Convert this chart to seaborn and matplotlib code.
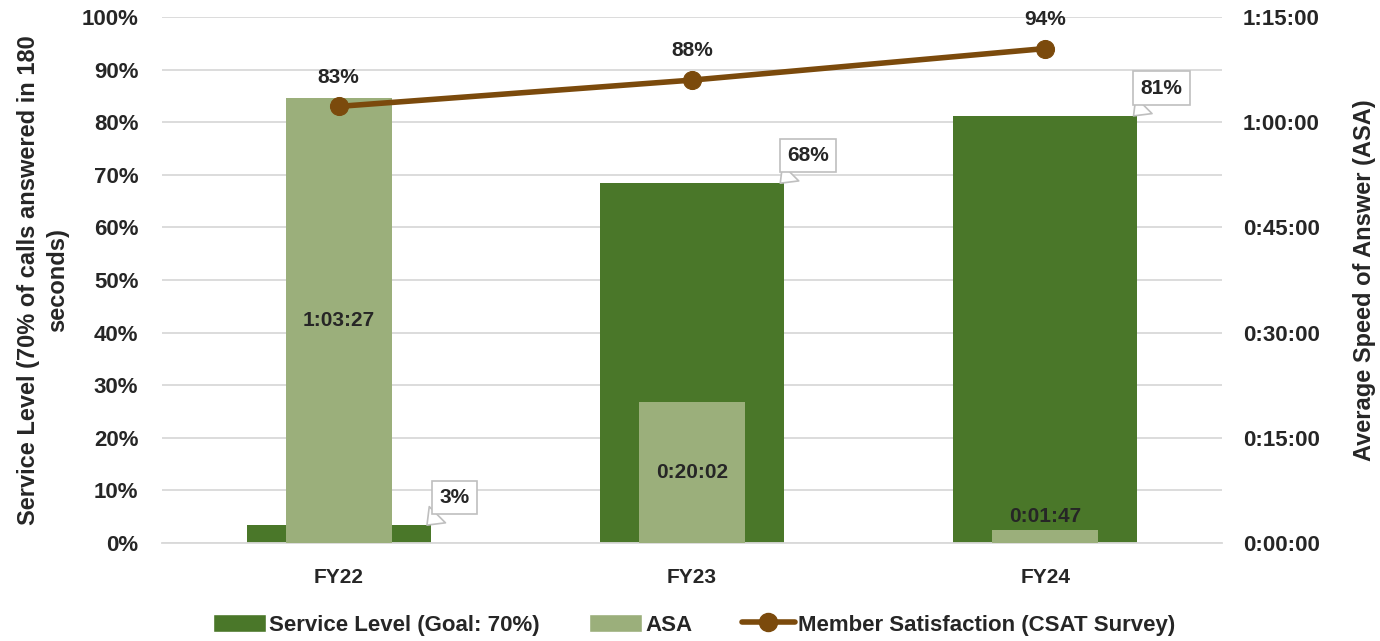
import matplotlib
matplotlib.use("Agg")
import matplotlib.pyplot as plt
import seaborn as sns
from matplotlib.patches import Patch
from matplotlib.lines import Line2D

# =====================================
# Data
# =====================================

years = ["FY22", "FY23", "FY24"]
service_level = [3.4, 68.4, 81.2]          # percent of calls answered in 180 s
asa_minutes = [63.45, 20.033, 1.783]       # average speed of answer, minutes
asa_labels = ["1:03:27", "0:20:02", "0:01:47"]
csat = [83.0, 88.0, 94.0]                  # member satisfaction, percent

right_ticks = [0, 15, 30, 45, 60, 75]
right_tick_labels = ["0:00:00", "0:15:00", "0:30:00", "0:45:00", "1:00:00", "1:15:00"]

dark_green = "#4A7729"
light_green = "#9BAF7B"
brown = "#7B4A0C"
grid_gray = "#D9D9D9"

# =====================================
# Setup
# =====================================

sns.set_style("white")
plt.rcParams["font.family"] = ["Liberation Sans", "DejaVu Sans"]
plt.rcParams["font.weight"] = "bold"

fig = plt.figure(figsize=(13.8, 6.41), dpi=100)
ax = fig.add_axes([0.1174, 0.1529, 0.768, 0.8206])

# =====================================
# Service level bars (left axis)
# =====================================

sns.barplot(x=years, y=service_level, ax=ax, color=dark_green,
            width=0.52, saturation=1, linewidth=0, edgecolor=dark_green)
ax.set_ylim(0, 100)
ax.set_xlim(-0.5, 2.5)
ax.set_yticks(range(0, 101, 10))
ax.set_yticklabels([f"{v}%" for v in range(0, 101, 10)], fontsize=16, fontweight="bold")
ax.yaxis.grid(True, color=grid_gray, linewidth=1.3)
ax.set_axisbelow(True)
ax.tick_params(axis="y", length=0, pad=17)
ax.tick_params(axis="x", length=0, labelsize=15, pad=18)
for lbl in ax.get_xticklabels():
    lbl.set_fontweight("bold")
for s in ["left", "right", "top"]:
    ax.spines[s].set_visible(False)
ax.spines["bottom"].set_color(grid_gray)
ax.spines["bottom"].set_linewidth(1.3)
ax.set_ylabel("Service Level (70% of calls answered in 180\nseconds)",
              fontsize=17, fontweight="bold", labelpad=9, linespacing=1.35)

# callout labels for service level
for i, v in enumerate(service_level):
    ax.annotate(
        f"{v:.0f}%",
        xy=(i + 0.25, v),
        xytext=(20, 20),
        textcoords="offset points",
        ha="center",
        va="center",
        fontsize=15,
        fontweight="bold",
        bbox=dict(boxstyle="square,pad=0.35", fc="white", ec="#BFBFBF", lw=1.2),
        arrowprops=dict(arrowstyle="wedge,tail_width=1.1", fc="white",
                        ec="#BFBFBF", lw=1.2, shrinkA=0, shrinkB=0),
        zorder=10,
    )

# =====================================
# ASA bars (right axis)
# =====================================

ax2 = ax.twinx()
sns.barplot(x=years, y=asa_minutes, ax=ax2, color=light_green,
            width=0.30, saturation=1, linewidth=0, edgecolor=light_green)
ax2.set_ylim(0, 75)
ax2.set_xlim(-0.5, 2.5)
ax2.set_yticks(right_ticks)
ax2.set_yticklabels(right_tick_labels, fontsize=16, fontweight="bold")
ax2.tick_params(axis="y", length=0, pad=15)
for s in ["left", "right", "top", "bottom"]:
    ax2.spines[s].set_visible(False)
ax2.set_ylabel("Average Speed of Answer (ASA)", fontsize=17,
               fontweight="bold", labelpad=24)

for i, (v, lab) in enumerate(zip(asa_minutes, asa_labels)):
    if v > 5:
        ax2.text(i, v / 2, lab, ha="center", va="center",
                 fontsize=15, fontweight="bold")
    else:
        ax2.annotate(lab, xy=(i, v), xytext=(0, 3), textcoords="offset points",
                     ha="center", va="bottom", fontsize=15, fontweight="bold")

# =====================================
# CSAT line (left scale, on top)
# =====================================

ax3 = ax.twinx()
ax3.set_ylim(0, 100)
ax3.set_xlim(-0.5, 2.5)
ax3.axis("off")
sns.lineplot(x=list(range(len(years))), y=csat, ax=ax3, color=brown,
             linewidth=4, marker="o", markersize=13, markeredgecolor=brown,
             legend=False)
for i, v in enumerate(csat):
    ax3.annotate(f"{v:.0f}%", xy=(i, v), xytext=(0, 21),
                 textcoords="offset points", ha="center", va="center",
                 fontsize=15, fontweight="bold")

# =====================================
# Legend
# =====================================

handles = [
    Patch(facecolor=dark_green, label="Service Level (Goal: 70%)"),
    Patch(facecolor=light_green, label="ASA"),
    Line2D([0], [0], color=brown, linewidth=4, marker="o", markersize=13,
           label="Member Satisfaction (CSAT Survey)"),
]
fig.legend(handles=handles, loc="center", bbox_to_anchor=(0.503, 0.025),
           ncol=3, frameon=False, handlelength=2.4,
           handleheight=0.9, columnspacing=2.2, handletextpad=0.15,
           prop={"weight": "bold", "size": 16})

fig.savefig("out.png", dpi=100)
